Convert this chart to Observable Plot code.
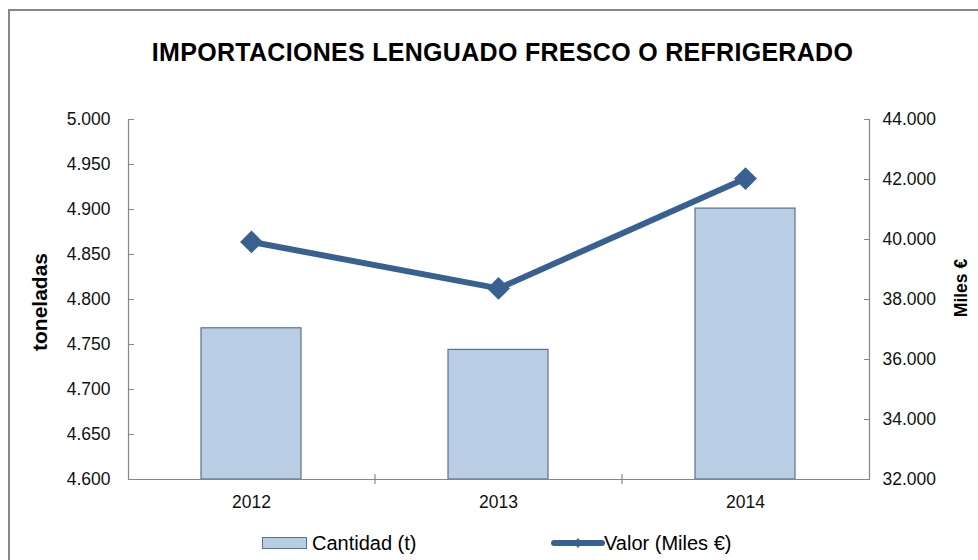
<!DOCTYPE html>
<html>
<head>
<meta charset="utf-8">
<script src="https://cdn.jsdelivr.net/npm/d3@7"></script>
<script src="https://cdn.jsdelivr.net/npm/@observablehq/plot@0.6"></script>
<style>
  html, body { margin: 0; padding: 0; background: #fff; }
  #wrap { position: relative; width: 978px; height: 560px; overflow: hidden; font-family: "Liberation Sans", Arial, sans-serif; color: #000; }
  #border { position: absolute; left: 8px; top: 9px; width: 1100px; height: 700px; border: 2px solid #878787; box-sizing: border-box; }
  #chart { position: absolute; left: 0; top: 0; }
  #title { position: absolute; left: 0; width: 1005px; top: 38px; text-align: center; font-weight: bold; font-size: 25px; letter-spacing: 0.3px; white-space: nowrap; }
  .ytitle { position: absolute; font-weight: bold; white-space: nowrap; transform: translate(-50%, -50%) rotate(-90deg); }
  #legend { position: absolute; top: 531px; left: 0; width: 978px; height: 24px; font-size: 20px; }
  .lg { position: absolute; top: 0; line-height: 24px; white-space: nowrap; }
</style>
</head>
<body>
<div id="wrap">
  <div id="border"></div>
  <div id="chart"></div>
  <div id="title"></div>
  <div class="ytitle" id="ylabelL" style="left:40px; top:302px; font-size:21px;"></div>
  <div class="ytitle" id="ylabelR" style="left:961px; top:288px; font-size:17.5px;"></div>
  <div id="legend"></div>
</div>
<script>
// ---- data ----
const title = "IMPORTACIONES LENGUADO FRESCO O REFRIGERADO";
const years = ["2012", "2013", "2014"];
const cantidad = [4768, 4744, 4901];          // toneladas
const valor = [39920, 38370, 42030];          // Miles €
const leftTicks = [4600, 4650, 4700, 4750, 4800, 4850, 4900, 4950, 5000];
const rightTicks = [32000, 34000, 36000, 38000, 40000, 42000, 44000];
const leftLabel = "toneladas";
const rightLabel = "Miles €";
const seriesNames = ["Cantidad (t)", "Valor (Miles €)"];

// ---- build ----
const rows = years.map((y, i) => ({year: y, cantidad: cantidad[i], valor: valor[i]}));
const toLeft = d3.scaleLinear([32000, 44000], [4600, 5000]);
const locale = d3.formatLocale({decimal: ",", thousands: ".", grouping: [3], currency: ["", "€"]});
const fmt = locale.format(",d");

const axisColor = "#868686";
const barFill = "#b9cde5";
const barStroke = "#5b7191";
const lineColor = "#386192";

const tickShape = {draw(context, l) { context.moveTo(0, 0); context.lineTo(0, -l); }};

const chart = Plot.plot({
  width: 978,
  height: 560,
  marginLeft: 128,
  marginRight: 109,
  marginTop: 119,
  marginBottom: 81,
  x: {domain: years, paddingInner: 0.595, paddingOuter: 0.2975, label: null},
  y: {domain: [4600, 5000], label: null},
  style: {fontFamily: "'Liberation Sans', Arial, sans-serif", fontSize: "17.5px", color: "#000", background: "transparent"},
  marks: [
    Plot.barY(rows, {x: "year", y1: 4600, y2: "cantidad", fill: barFill, stroke: barStroke, strokeWidth: 1.2}),
    Plot.ruleY([4600], {stroke: axisColor, strokeWidth: 1.2}),
    Plot.frame({anchor: "left", stroke: axisColor, strokeWidth: 1.2}),
    Plot.frame({anchor: "right", stroke: axisColor, strokeWidth: 1.2}),
    Plot.vector(leftTicks, {y: d => d, frameAnchor: "left", length: 5, rotate: 90, anchor: "start", shape: tickShape, stroke: axisColor, strokeWidth: 1.2}),
    Plot.vector(rightTicks.map(toLeft), {y: d => d, frameAnchor: "right", length: 5, rotate: -90, anchor: "start", shape: tickShape, stroke: axisColor, strokeWidth: 1.2}),
    Plot.vector(years.slice(0, 2), {x: d => d, frameAnchor: "bottom", dx: 123.5, dy: 4, length: 9, rotate: 0, anchor: "start", shape: tickShape, stroke: axisColor, strokeWidth: 1.2}),
    Plot.axisY({anchor: "left", label: null, ticks: leftTicks, tickSize: 0, tickPadding: 18, tickFormat: fmt, fill: "#111"}),
    Plot.axisY({anchor: "right", label: null, ticks: rightTicks.map(toLeft), tickSize: 0, tickPadding: 13, tickFormat: d => fmt(Math.round(toLeft.invert(d))), fill: "#111"}),
    Plot.axisX({anchor: "bottom", label: null, tickSize: 0, tickPadding: 16, fill: "#111"}),
    Plot.line(rows, {x: "year", y: d => toLeft(d.valor), stroke: lineColor, strokeWidth: 6, strokeLinejoin: "round"}),
    Plot.dot(rows, {x: "year", y: d => toLeft(d.valor), symbol: "diamond2", r: 10.3, fill: lineColor, stroke: "none"})
  ]
});
document.getElementById("chart").appendChild(chart);

document.getElementById("title").textContent = title;
document.getElementById("ylabelL").textContent = leftLabel;
document.getElementById("ylabelR").textContent = rightLabel;

// legend
const lg = document.getElementById("legend");
lg.innerHTML = `
  <svg class="lg" style="left:262px; top:6px;" width="45" height="12"><rect x="0.5" y="0.5" width="44" height="11" fill="${barFill}" stroke="${barStroke}" stroke-width="1"/></svg>
  <span class="lg" style="left:312px; top:0px;">${seriesNames[0]}</span>
  <svg class="lg" style="left:550px; top:5px;" width="56" height="14"><line x1="4" y1="7" x2="52" y2="7" stroke="${lineColor}" stroke-width="6" stroke-linecap="round"/><path d="M28,2 L32,7 L28,12 L24,7 Z" fill="${lineColor}"/></svg>
  <span class="lg" style="left:604px; top:0px;">${seriesNames[1]}</span>`;
</script>
</body>
</html>
